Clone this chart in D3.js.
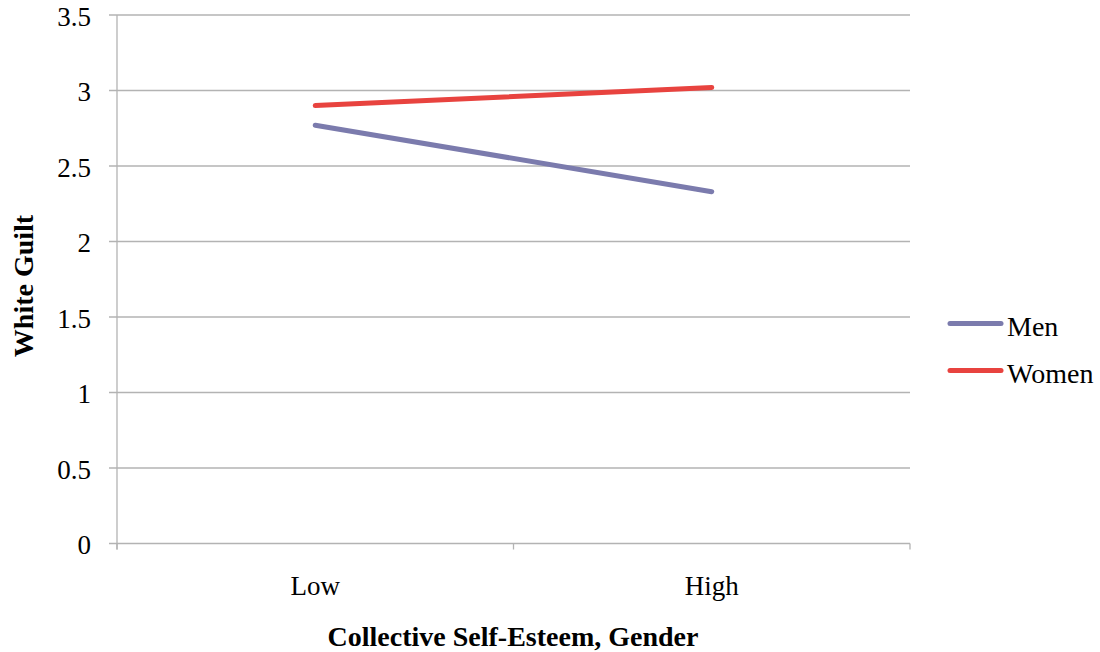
<!DOCTYPE html>
<html><head><meta charset="utf-8">
<script src="https://cdn.jsdelivr.net/npm/d3@7"></script>
<style>body{margin:0;background:#fff}svg{display:block}text{font-family:"Liberation Serif",serif;fill:#000}</style>
</head><body>
<svg id="c" width="1100" height="652"></svg>
<script>
const categories = ["Low", "High"];
const seriesNames = ["Men", "Women"];
const menValues = [2.77, 2.33];
const womenValues = [2.90, 3.02];
const yTicks = [0, 0.5, 1, 1.5, 2, 2.5, 3, 3.5];
const yTickLabels = ["0", "0.5", "1", "1.5", "2", "2.5", "3", "3.5"];
const colors = ["#7B7BAD", "#E8433F"];

const svg = d3.select("#c");
const L = 117, R = 910, T = 15, B = 543.5;
const x = d3.scaleBand().domain(categories).range([L, R]);
const y = d3.scaleLinear().domain([0, 3.5]).range([B, T]);
const font = "'Liberation Serif',serif";
const fs = "27px";
const fsBig = "28px";

// gridlines
svg.append("g").selectAll("line").data(yTicks).join("line")
  .attr("x1", L - 8).attr("x2", R).attr("y1", d => y(d)).attr("y2", d => y(d))
  .attr("stroke", "#b3b3b3").attr("stroke-width", 1.3);
// y axis line
svg.append("line").attr("x1", L).attr("x2", L).attr("y1", T).attr("y2", B + 6)
  .attr("stroke", "#b3b3b3").attr("stroke-width", 1.3);
// x ticks
const xt = [L, ...categories.slice(1).map(c => x(c)), R];
svg.append("g").selectAll("line").data(xt).join("line")
  .attr("x1", d => d).attr("x2", d => d).attr("y1", B).attr("y2", B + 6)
  .attr("stroke", "#b3b3b3").attr("stroke-width", 1.3);

// y labels
svg.append("g").selectAll("text").data(yTicks).join("text")
  .attr("x", 91).attr("y", d => y(d) + 10.5)
  .attr("text-anchor", "end").style("font-size", fs).style("font-family", font)
  .text((d, i) => yTickLabels[i]);
// x labels
svg.append("g").selectAll("text").data(categories).join("text")
  .attr("x", d => x(d) + x.bandwidth() / 2).attr("y", 595)
  .attr("text-anchor", "middle").style("font-size", fs).style("font-family", font)
  .text(d => d);

// titles
svg.append("text").attr("x", 513).attr("y", 646).attr("text-anchor", "middle")
  .style("font-size", fsBig).style("font-weight", "bold").style("font-family", font)
  .text("Collective Self-Esteem, Gender");
svg.append("text").attr("transform", "translate(33,286) rotate(-90)").attr("text-anchor", "middle")
  .style("font-size", fsBig).style("font-weight", "bold").style("font-family", font)
  .text("White Guilt");

// lines
const series = [menValues, womenValues];
const line = d3.line().x((d, i) => x(categories[i]) + x.bandwidth() / 2).y(d => y(d));
svg.append("g").selectAll("path").data(series).join("path")
  .attr("d", d => line(d)).attr("fill", "none")
  .attr("stroke", (d, i) => colors[i]).attr("stroke-width", 5).attr("stroke-linecap", "round");

// legend
const lg = svg.append("g").selectAll("g").data(seriesNames).join("g")
  .attr("transform", (d, i) => `translate(0,${323.5 + i * 47})`);
lg.append("line").attr("x1", 950).attr("x2", 1001).attr("y1", 0).attr("y2", 0)
  .attr("stroke", (d, i) => colors[i]).attr("stroke-width", 5).attr("stroke-linecap", "round");
lg.append("text").attr("x", 1007).attr("y", 12)
  .style("font-size", fsBig).style("font-family", font).text(d => d);
</script>
</body></html>
